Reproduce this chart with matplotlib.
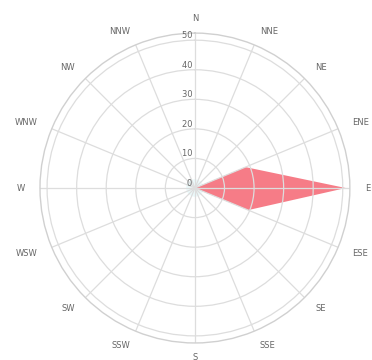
import numpy as np
import matplotlib.pyplot as plt

# wind directions
directions = ['N', 'NNE', 'NE', 'ENE', 'E', 'ESE', 'SE', 'SSE',
              'S', 'SSW', 'SW', 'WSW', 'W', 'WNW', 'NW', 'NNW']
# main series (red)
main_vals = [0, 0, 0, 18.5, 51, 19.5, 0, 0, 0, 0, 0, 0, 0, 0, 0, 0]
# faint background series (cyan)
faint_vals = [3, 3, 3, 3, 52, 3, 3, 3, 3, 3, 3, 3, 3, 3, 3, 3]
r_ticks = [0, 10, 20, 30, 40, 50]

theta = np.deg2rad(np.arange(len(directions)) * 22.5)
theta_c = np.append(theta, theta[0])

fig = plt.figure(figsize=(3.72, 3.6), dpi=100)
ax = fig.add_axes([0.1075, 0.0472, 0.833, 0.861], projection='polar')
ax.set_theta_zero_location('N')
ax.set_theta_direction(-1)

ax.fill(theta_c, np.append(faint_vals, faint_vals[0]), color='#dff6f8', alpha=0.6, lw=0)
ax.fill(theta_c, np.append(main_vals, main_vals[0]), color='#f56e7a', alpha=0.9, lw=0)

rmax = 52.4
ax.set_ylim(0, rmax)
ax.set_yticks(r_ticks)
ax.set_yticklabels([])
ax.set_xticks(theta)
ax.set_xticklabels([])
ax.grid(color='#dddddd', lw=0.9)
ax.spines['polar'].set_color('#d0d0d0')
ax.spines['polar'].set_linewidth(1.0)

# angular labels, anchored just outside the circle
lab_r = rmax * 170 / 155
for t, name in zip(theta, directions):
    s = np.sin(t)
    if abs(s) < 0.01:
        ha = 'center'
    elif s > 0:
        ha = 'left'
    else:
        ha = 'right'
    ax.text(t, lab_r, name, ha=ha, va='center', fontsize=6, color='#666666',
            clip_on=False)

# radial labels along the north spoke
for r in r_ticks:
    ax.text(0, r, str(r) + ' ', ha='right', va='bottom', fontsize=6, color='#666666')

fig.savefig('out.png')
